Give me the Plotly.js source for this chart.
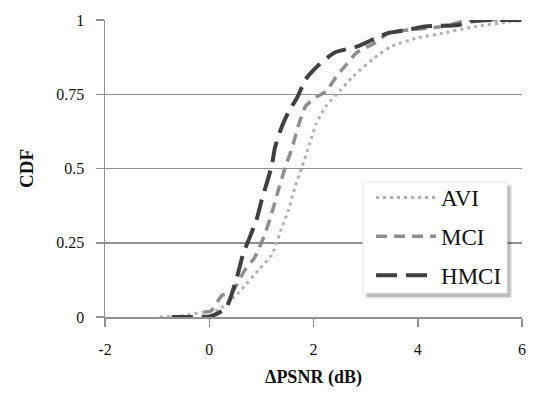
<!DOCTYPE html>
<html>
<head>
<meta charset="utf-8">
<script src="https://cdn.plot.ly/plotly-3.0.1.min.js"></script>
<style>html,body{margin:0;padding:0;background:#fff;}#chart{width:533px;height:396px;}</style>
</head>
<body>
<div id="chart"></div>
<script>
// Data (ΔPSNR in dB vs CDF)
const aviX = [-0.95, -0.5, -0.1, 0.16, 0.55, 0.94, 1.2, 1.39, 1.52, 1.65, 1.78, 1.92, 2.05, 2.24, 2.5, 2.76, 3.15, 3.48, 4.0, 4.46, 5.1, 5.76, 6.0];
const aviY = [0.0, 0.004, 0.017, 0.022, 0.08, 0.157, 0.21, 0.30, 0.36, 0.44, 0.505, 0.58, 0.65, 0.71, 0.76, 0.81, 0.87, 0.91, 0.94, 0.955, 0.978, 0.994, 0.998];

const mciX = [-0.1, 0.03, 0.25, 0.42, 0.68, 0.87, 1.07, 1.2, 1.33, 1.46, 1.59, 1.72, 1.85, 2.05, 2.24, 2.44, 2.63, 2.83, 3.15, 3.48, 3.8, 4.46, 4.85, 5.1, 6.0];
const mciY = [0.017, 0.02, 0.073, 0.08, 0.157, 0.2, 0.28, 0.35, 0.43, 0.505, 0.57, 0.65, 0.71, 0.74, 0.76, 0.81, 0.85, 0.89, 0.92, 0.96, 0.966, 0.978, 0.994, 1.0, 1.0];

const hmciX = [-0.72, -0.3, 0.03, 0.32, 0.55, 0.645, 0.905, 1.0, 1.2, 1.26, 1.39, 1.52, 1.69, 1.85, 2.11, 2.4, 2.83, 3.09, 3.41, 3.8, 4.13, 4.78, 4.98, 5.43, 6.0];
const hmciY = [0.0, 0.0, 0.003, 0.03, 0.146, 0.21, 0.326, 0.39, 0.51, 0.57, 0.64, 0.69, 0.74, 0.80, 0.85, 0.89, 0.91, 0.93, 0.955, 0.966, 0.978, 0.983, 0.994, 1.0, 1.0];

const seriesNames = ['AVI', 'MCI', 'HMCI'];
const xTicks = [-2, 0, 2, 4, 6];
const yTicks = [0, 0.25, 0.5, 0.75, 1];
const yTickLabels = ['0', '0.25', '0.5', '0.75', '1'];

const serif = "'Liberation Serif', 'Times New Roman', serif";
const axisGray = '#909090';

const traces = [
  {x: aviX, y: aviY, name: seriesNames[0], mode: 'lines', legendgroup: 'a',
   line: {color: '#b0b0b0', width: 3, dash: '3px,4px', shape: 'spline', smoothing: 0.6}},
  {x: mciX, y: mciY, name: seriesNames[1], mode: 'lines', legendgroup: 'b',
   line: {color: '#8e8e8e', width: 3.5, dash: '11px,7px', shape: 'spline', smoothing: 0.6}},
  {x: hmciX, y: hmciY, name: seriesNames[2], mode: 'lines', legendgroup: 'c',
   line: {color: '#404040', width: 4, dash: '21px,9px', shape: 'spline', smoothing: 0.6}}
];

const layout = {
  width: 533, height: 396,
  margin: {l: 105, r: 11, t: 20, b: 79},
  paper_bgcolor: '#fff', plot_bgcolor: '#fff',
  font: {family: serif, size: 16, color: '#111'},
  xaxis: {
    range: [-2, 6], tickvals: xTicks, ticktext: xTicks.map(String),
    showgrid: false, zeroline: false, showline: true, linecolor: axisGray, linewidth: 1.5,
    ticks: 'outside', ticklen: 8, tickcolor: axisGray, tickwidth: 1.5,
    ticklabelstandoff: 9,
    title: {text: '<b>ΔPSNR (dB)</b>', font: {family: serif, size: 18}, standoff: 13}
  },
  yaxis: {
    range: [0, 1], tickvals: yTicks, ticktext: yTickLabels,
    showgrid: true, gridcolor: axisGray, gridwidth: 1.5, zeroline: false,
    showline: true, linecolor: axisGray, linewidth: 1.5,
    ticks: 'outside', ticklen: 8, tickcolor: axisGray, tickwidth: 1.5,
    ticklabelstandoff: 8,
    title: {text: '<b>CDF</b>', font: {family: serif, size: 19}, standoff: 17}
  },
  showlegend: true,
  legend: {
    x: 0.638, y: 0.475, xanchor: 'left', yanchor: 'top',
    bgcolor: 'rgba(0,0,0,0)', borderwidth: 0,
    font: {family: serif, size: 23, color: '#111'},
    traceorder: 'grouped', tracegroupgap: 6, itemwidth: 60
  },
  shapes: [
    {type: 'rect', xref: 'paper', yref: 'paper', layer: 'above',
     x0: 0.624, x1: 0.976, y0: 0.062, y1: 0.446,
     fillcolor: 'rgba(0,0,0,0.10)', line: {width: 0}},
    {type: 'rect', xref: 'paper', yref: 'paper', layer: 'above',
     x0: 0.628, x1: 0.972, y0: 0.0673, y1: 0.441,
     fillcolor: 'rgba(0,0,0,0.18)', line: {width: 0}},
    {type: 'rect', xref: 'paper', yref: 'paper', layer: 'above',
     x0: 0.6187, x1: 0.964, y0: 0.0808, y1: 0.4545,
     fillcolor: '#ffffff', line: {width: 1, color: '#e8e8e8'}}
  ]
};

Plotly.newPlot('chart', traces, layout, {displayModeBar: false, staticPlot: true});
</script>
</body>
</html>
